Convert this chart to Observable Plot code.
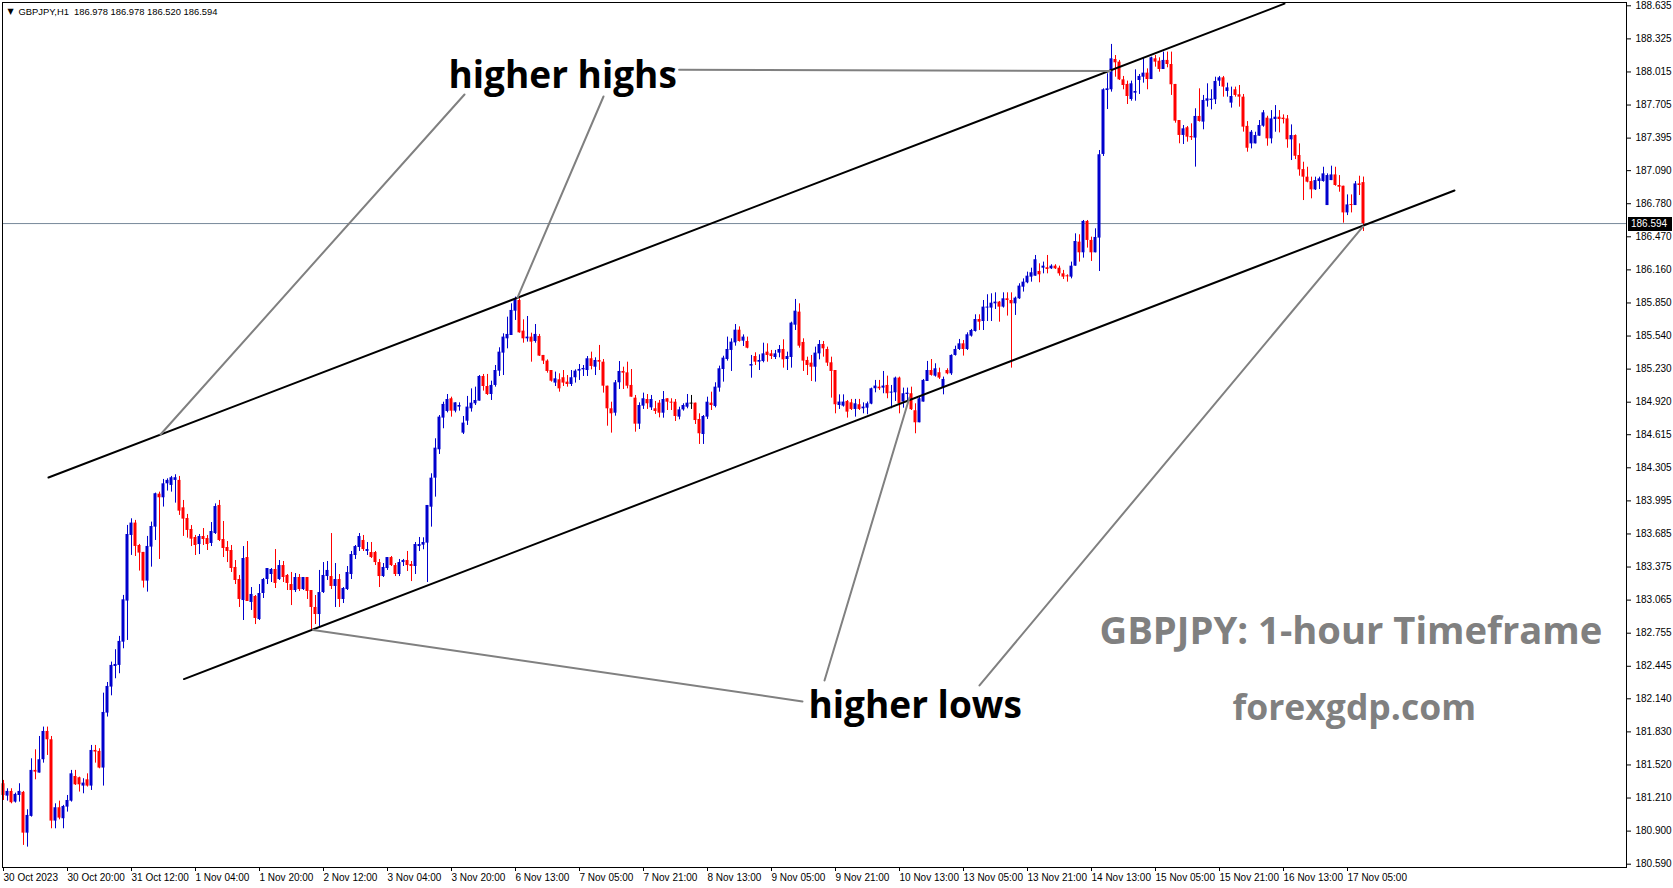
<!DOCTYPE html>
<html>
<head>
<meta charset="utf-8">
<script src="https://cdn.jsdelivr.net/npm/d3@7"></script>
<script src="https://cdn.jsdelivr.net/npm/@observablehq/plot@0.6"></script>
<style>
  html, body { margin: 0; padding: 0; background: #ffffff; overflow: hidden; }
  #chart svg { display: block; }
</style>
</head>
<body>
<div id="chart"></div>
<script>
// ---------- header ----------
const symbolLabel = "GBPJPY,H1";
const lastBarOHLC = ["186.978", "186.978", "186.520", "186.594"];
const currentPrice = 186.594;

// ---------- hourly candles (bar index 0 = 30 Oct 2023 04:00) ----------
const opens = [
181.344,181.228,181.272,181.172,181.234,181.263,180.881,181.038,181.469,181.444,
181.569,181.834,181.756,180.994,181.119,181.016,181.125,181.181,181.412,181.400,
181.322,181.381,181.322,181.656,181.647,181.491,182.006,182.250,182.443,182.453,
182.671,183.056,183.671,183.787,183.577,183.512,183.243,183.562,183.749,184.058,
184.024,184.155,184.140,184.187,184.187,183.930,183.830,183.727,183.652,183.586,
183.661,183.642,183.596,183.689,183.952,183.633,183.558,183.530,183.371,183.258,
183.061,183.464,183.043,183.099,182.883,183.127,183.258,183.305,183.352,183.258,
183.389,183.296,183.211,183.155,183.277,183.164,183.277,183.155,182.996,182.930,
183.136,183.286,183.286,183.193,183.258,183.071,183.164,183.305,183.483,183.558,
183.624,183.521,183.511,183.511,183.417,183.286,183.361,183.464,183.389,183.305,
183.417,183.436,183.399,183.380,183.567,183.580,183.599,183.936,184.208,184.474,
184.771,184.833,184.952,184.836,184.874,184.630,184.742,184.858,184.905,184.930,
185.161,185.067,184.992,185.077,185.211,185.380,185.514,185.545,185.773,185.873,
185.586,185.514,185.530,185.489,185.536,185.358,185.305,185.217,185.099,185.130,
185.149,185.108,185.086,185.149,185.211,185.223,185.217,185.327,185.248,185.311,
185.295,185.070,184.858,184.817,185.102,185.208,185.195,185.077,184.958,184.714,
184.883,184.945,184.867,184.858,184.911,184.817,184.952,184.920,184.920,184.780,
184.848,184.873,184.902,184.911,184.758,184.617,184.780,184.911,184.880,185.052,
185.226,185.320,185.405,185.476,185.595,185.492,185.489,185.258,185.348,185.295,
185.301,185.389,185.373,185.339,185.380,185.414,185.320,185.339,185.642,185.764,
185.480,185.311,185.286,185.248,185.373,185.461,185.414,185.289,185.217,184.889,
184.883,184.927,184.914,184.852,184.896,184.858,184.864,184.902,185.046,185.061,
185.052,185.077,185.005,185.008,185.146,184.921,184.992,184.999,184.840,184.727,
184.921,185.114,185.217,185.164,185.196,185.052,185.217,185.186,185.358,185.414,
185.467,185.414,185.539,185.583,185.695,185.676,185.802,185.802,185.842,185.858,
185.811,185.889,185.873,185.842,185.889,185.998,186.039,186.092,186.101,186.145,
186.176,186.180,186.170,186.195,186.176,186.123,186.101,186.092,186.195,186.420,
186.320,186.614,186.436,186.320,186.458,187.242,187.841,187.848,188.132,188.107,
187.941,187.898,187.757,187.816,187.935,187.966,188.004,187.944,188.138,188.116,
188.038,188.123,188.085,187.898,187.560,187.420,187.492,187.410,187.395,187.598,
187.545,187.741,187.748,187.754,187.929,187.960,187.832,187.723,187.848,187.801,
187.779,187.505,187.341,187.341,187.413,187.507,187.582,187.388,187.569,187.591,
187.582,187.575,187.379,187.419,187.232,187.100,187.029,186.988,186.910,186.988,
186.988,186.763,186.997,187.050,186.951,186.944,186.694,186.769,186.763,186.966,186.978
];
const highs = [
181.375,181.297,181.297,181.256,181.344,181.272,181.100,181.578,181.662,181.787,
181.875,181.875,181.787,181.156,181.181,181.141,181.234,181.469,181.469,181.406,
181.391,181.437,181.703,181.703,181.672,182.193,182.293,182.484,182.600,182.725,
183.109,183.765,183.827,183.812,183.587,183.512,183.662,183.796,184.068,184.077,
184.196,184.202,184.224,184.240,184.224,183.999,183.868,183.764,183.671,183.680,
183.736,183.671,183.792,183.967,183.999,183.802,183.614,183.577,183.436,183.296,
183.567,183.614,183.183,183.108,183.211,183.268,183.361,183.361,183.539,183.436,
183.427,183.305,183.324,183.314,183.305,183.277,183.277,183.155,183.108,183.343,
183.417,183.427,183.689,183.408,183.305,183.183,183.380,183.521,183.577,183.689,
183.671,183.605,183.605,183.521,183.446,183.408,183.464,183.474,183.408,183.446,
183.446,183.521,183.427,183.605,183.652,183.649,183.952,184.249,184.577,184.795,
184.920,184.992,184.967,184.914,184.914,184.786,184.974,185.045,185.061,185.170,
185.180,185.180,185.117,185.264,185.430,185.561,185.717,185.842,185.905,185.889,
185.692,185.723,185.567,185.648,185.555,185.358,185.317,185.217,185.202,185.186,
185.217,185.170,185.217,185.223,185.273,185.264,185.348,185.389,185.336,185.452,
185.320,185.070,184.920,185.123,185.301,185.248,185.295,185.226,184.983,184.914,
185.005,184.992,184.983,184.927,184.936,185.020,184.952,184.952,184.945,184.873,
184.905,184.992,184.983,184.911,184.811,184.795,184.967,185.014,185.102,185.258,
185.351,185.530,185.514,185.648,185.626,185.551,185.530,185.358,185.383,185.364,
185.473,185.467,185.405,185.405,185.451,185.505,185.389,185.670,185.883,185.842,
185.514,185.342,185.358,185.436,185.498,185.489,185.436,185.342,185.217,184.989,
184.989,184.936,184.946,184.946,184.946,184.914,184.921,185.052,185.124,185.124,
185.208,185.164,185.077,185.155,185.155,185.052,185.052,185.061,184.905,184.967,
185.133,185.302,185.320,185.280,185.239,185.155,185.233,185.364,185.445,185.508,
185.498,185.570,185.602,185.739,185.739,185.873,185.927,185.936,185.945,185.864,
185.945,185.945,185.945,185.905,186.030,186.076,186.139,186.176,186.295,186.217,
186.233,186.295,186.208,186.208,186.195,186.155,186.114,186.233,186.498,186.489,
186.623,186.623,186.467,186.545,187.279,187.857,187.998,188.273,188.169,188.123,
187.973,187.929,187.929,188.035,187.991,188.148,188.044,188.154,188.169,188.148,
188.201,188.201,188.201,187.898,187.560,187.513,187.504,187.529,187.670,187.857,
187.795,187.904,187.848,187.966,187.973,187.973,187.910,187.873,187.873,187.888,
187.804,187.550,187.466,187.450,187.560,187.653,187.600,187.653,187.700,187.653,
187.613,187.607,187.519,187.425,187.341,187.169,187.122,187.029,187.029,187.029,
187.122,187.060,187.132,187.122,187.044,186.944,186.863,186.863,186.988,187.038,187.030
];
const lows = [
181.187,181.181,181.156,181.163,181.172,180.766,180.750,181.031,181.381,181.444,
181.537,181.609,180.922,180.922,181.006,180.922,181.078,181.172,181.328,181.266,
181.250,181.313,181.281,181.537,181.484,181.322,181.969,182.168,182.328,182.375,
182.609,182.687,183.484,183.474,183.337,183.178,183.140,183.374,183.624,183.446,
183.937,184.087,184.077,183.974,183.859,183.662,183.646,183.567,183.483,183.492,
183.577,183.530,183.567,183.680,183.614,183.464,183.417,183.324,183.211,182.996,
182.874,183.052,182.968,182.836,182.874,183.080,183.211,183.230,183.174,183.249,
183.230,183.155,183.014,183.136,183.146,183.155,183.071,182.780,182.836,182.818,
183.127,183.249,183.164,182.996,182.996,183.033,183.155,183.258,183.446,183.521,
183.521,183.483,183.455,183.389,183.183,183.277,183.343,183.380,183.286,183.286,
183.380,183.333,183.239,183.305,183.521,183.537,183.230,183.749,184.030,184.430,
184.671,184.820,184.780,184.820,184.836,184.617,184.702,184.827,184.889,184.930,
185.024,184.983,184.936,185.061,185.161,185.170,185.420,185.545,185.686,185.567,
185.473,185.483,185.295,185.473,185.349,185.273,185.192,185.108,185.067,185.014,
185.067,185.061,185.067,185.099,185.124,185.161,185.161,185.223,185.170,185.217,
185.005,184.695,184.630,184.789,185.039,185.039,185.045,184.967,184.639,184.664,
184.852,184.852,184.842,184.805,184.773,184.770,184.842,184.842,184.739,184.755,
184.836,184.858,184.852,184.711,184.524,184.524,184.758,184.842,184.867,185.014,
185.108,185.305,185.208,185.445,185.483,185.442,185.420,185.145,185.264,185.217,
185.289,185.295,185.320,185.320,185.336,185.239,185.217,185.239,185.592,185.426,
185.208,185.170,185.114,185.108,185.317,185.342,185.255,184.958,184.811,184.852,
184.874,184.771,184.842,184.780,184.842,184.811,184.802,184.896,185.008,185.030,
184.999,184.952,184.858,184.927,184.811,184.864,184.896,184.842,184.624,184.727,
184.921,185.114,185.164,185.155,185.133,184.989,185.177,185.171,185.352,185.405,
185.352,185.405,185.530,185.577,185.592,185.592,185.676,185.676,185.789,185.670,
185.802,185.727,185.239,185.733,185.883,185.952,186.030,186.045,186.101,186.039,
186.123,186.123,186.164,186.164,186.101,186.070,186.045,186.076,186.195,186.233,
186.270,186.364,186.239,186.320,186.145,187.223,187.663,187.826,187.966,187.935,
187.848,187.710,187.741,187.741,187.804,187.910,187.848,187.944,188.060,188.013,
188.038,188.054,187.795,187.535,187.342,187.335,187.357,187.373,187.123,187.545,
187.473,187.685,187.660,187.710,187.879,187.779,187.779,187.676,187.779,187.685,
187.451,187.263,187.294,187.341,187.413,187.497,187.319,187.341,187.450,187.444,
187.528,187.300,187.185,187.194,187.038,186.810,186.976,186.826,186.904,186.913,
186.982,186.763,186.997,186.944,186.888,186.598,186.669,186.694,186.763,186.857,186.520
];
const closes = [
181.234,181.272,181.166,181.244,181.272,180.881,181.047,181.469,181.453,181.569,
181.834,181.756,180.994,181.119,181.022,181.131,181.187,181.437,181.334,181.334,
181.350,181.322,181.656,181.641,181.491,182.012,182.256,182.453,182.462,182.678,
183.068,183.680,183.787,183.568,183.506,183.243,183.568,183.755,184.062,184.024,
184.155,184.187,184.212,184.212,183.899,183.824,183.718,183.636,183.577,183.661,
183.633,183.586,183.708,183.942,183.624,183.549,183.521,183.361,183.249,183.071,
183.455,183.052,183.118,182.893,183.127,183.258,183.361,183.352,183.221,183.389,
183.277,183.221,183.155,183.277,183.164,183.277,183.146,182.996,182.930,183.136,
183.296,183.343,183.193,183.258,183.071,183.174,183.324,183.492,183.567,183.661,
183.539,183.539,183.464,183.417,183.286,183.371,183.464,183.389,183.305,183.417,
183.436,183.389,183.380,183.586,183.586,183.605,183.952,184.208,184.489,184.780,
184.899,184.945,184.836,184.914,184.889,184.724,184.874,184.911,184.936,185.161,
185.067,184.992,185.077,185.217,185.389,185.530,185.555,185.780,185.880,185.570,
185.514,185.530,185.483,185.555,185.352,185.305,185.208,185.117,185.139,185.045,
185.099,185.086,185.149,185.211,185.227,185.236,185.327,185.255,185.311,185.295,
185.070,184.858,184.811,185.102,185.208,185.192,185.070,184.967,184.714,184.889,
184.952,184.905,184.945,184.833,184.817,184.945,184.920,184.911,184.786,184.848,
184.889,184.911,184.902,184.748,184.624,184.786,184.920,184.889,185.061,185.233,
185.333,185.414,185.483,185.595,185.489,185.530,185.426,185.273,185.295,185.311,
185.373,185.358,185.348,185.373,185.414,185.317,185.348,185.661,185.773,185.445,
185.305,185.264,185.248,185.380,185.461,185.420,185.286,185.208,184.896,184.921,
184.921,184.827,184.852,184.905,184.852,184.874,184.905,185.046,185.071,185.046,
185.071,184.999,185.014,185.146,184.905,184.999,185.005,184.850,184.727,184.952,
185.124,185.217,185.171,185.233,185.146,185.133,185.186,185.358,185.414,185.467,
185.414,185.552,185.592,185.695,185.670,185.811,185.811,185.848,185.858,185.811,
185.889,185.873,185.842,185.895,186.008,186.045,186.101,186.133,186.255,186.114,
186.195,186.164,186.195,186.170,186.123,186.092,186.095,186.195,186.426,186.320,
186.614,186.436,186.320,186.464,187.239,187.848,187.857,188.138,188.101,187.941,
187.888,187.785,187.904,187.832,187.973,188.004,187.944,188.148,188.107,188.038,
188.123,188.085,187.895,187.554,187.420,187.482,187.404,187.398,187.598,187.551,
187.748,187.763,187.760,187.926,187.960,187.873,187.866,187.785,187.795,187.779,
187.498,187.300,187.450,187.419,187.513,187.632,187.388,187.575,187.591,187.569,
187.569,187.379,187.419,187.225,187.097,187.029,186.982,186.910,186.997,187.013,
187.060,187.044,187.050,186.951,186.935,186.694,186.769,186.763,186.966,186.951,186.594
];

// ---------- axes ----------
const xTickBars = [0,16,32,48,64,80,96,112,128,144,160,176,192,208,224,240,256,272,288,304,320,336];
const xTickLabels = ["30 Oct 2023","30 Oct 20:00","31 Oct 12:00","1 Nov 04:00","1 Nov 20:00","2 Nov 12:00",
  "3 Nov 04:00","3 Nov 20:00","6 Nov 13:00","7 Nov 05:00","7 Nov 21:00","8 Nov 13:00","9 Nov 05:00",
  "9 Nov 21:00","10 Nov 13:00","13 Nov 05:00","13 Nov 21:00","14 Nov 13:00","15 Nov 05:00",
  "15 Nov 21:00","16 Nov 13:00","17 Nov 05:00"];
const yTicks = [188.635,188.325,188.015,187.705,187.395,187.090,186.780,186.470,186.160,185.850,185.540,
  185.230,184.920,184.615,184.305,183.995,183.685,183.375,183.065,182.755,182.445,182.140,181.830,
  181.520,181.210,180.900,180.590];
const priceDomain = [180.559, 188.666];
const barDomain = [-0.25, 405.75];

// ---------- drawn objects: [bar index, price] ----------
const upperChannel = [[11.25, 184.214], [320.25, 188.655]];
const lowerChannel = [[45.125, 182.325], [362.75, 186.904]];
const highsPointerA = [[168.9, 188.036], [276.7, 188.024]];
const highsPointerB = [[115.25, 187.804], [39.25, 184.617]];
const highsPointerC = [[150.0, 187.785], [128.5, 185.901]];
const lowsPointerA = [[77.4, 182.785], [199.75, 182.115]];
const lowsPointerB = [[205.25, 182.312], [226.5, 184.964]];
const lowsPointerC = [[244.0, 182.265], [339.9, 186.567]];

const labelTexts = ["higher highs", "higher lows"];
const labelBars = [111.25, 201.25];
const labelPrices = [187.864, 181.96];
const watermarkTexts = ["GBPJPY: 1-hour Timeframe", "forexgdp.com"];
const watermarkBars = [274, 307.25];
const watermarkPrices = [182.655, 181.945];
const watermarkSizes = [38.2, 35.5];

// ---------- build ----------
const BULL = "#0000cd", BEAR = "#ff0000", DOJI = "#000000";
const n = Math.min(opens.length, highs.length, lows.length, closes.length);
const bars = d3.range(n).map(i => ({i, o: opens[i], h: highs[i], l: lows[i], c: closes[i]}));
const colorOf = d => d.c > d.o ? BULL : d.c < d.o ? BEAR : DOJI;
const pxPrice = (priceDomain[1] - priceDomain[0]) / 865;
const bodies = bars.map(d => {
  const lo = Math.min(d.o, d.c);
  let hi = Math.max(d.o, d.c);
  if (hi - lo < pxPrice) hi = lo + pxPrice;
  return {...d, lo, hi, color: colorOf(d)};
});
bars.forEach(d => d.color = colorOf(d));

const segs = [
  ["upper", upperChannel, "#000000"], ["lower", lowerChannel, "#000000"],
  ["hhA", highsPointerA, "#808080"], ["hhB", highsPointerB, "#808080"], ["hhC", highsPointerC, "#808080"],
  ["hlA", lowsPointerA, "#808080"], ["hlB", lowsPointerB, "#808080"], ["hlC", lowsPointerC, "#808080"]
].flatMap(([id, pts, color]) => pts.map(([b, p]) => ({id, b, p, color})));

const labels = labelTexts.map((t, k) => ({t, b: labelBars[k], p: labelPrices[k]}));
const marks = watermarkTexts.map((t, k) => ({t, b: watermarkBars[k], p: watermarkPrices[k], s: watermarkSizes[k]}));

const plot = Plot.plot({
  width: 1673,
  height: 888,
  marginLeft: 2,
  marginRight: 47,
  marginTop: 2,
  marginBottom: 21,
  x: {type: "linear", domain: barDomain},
  y: {type: "linear", domain: priceDomain},
  color: {type: "identity"},
  style: {fontFamily: "'Liberation Sans', Arial, sans-serif", fontSize: "10px", background: "#ffffff", color: "#000000"},
  marks: [
    Plot.ruleY([currentPrice], {stroke: "#778899", strokeWidth: 1}),
    Plot.ruleX(bars, {x: "i", y1: "l", y2: "h", stroke: "color", strokeWidth: 1}),
    Plot.rect(bodies, {x1: d => d.i - 0.375, x2: d => d.i + 0.375, y1: "lo", y2: "hi", fill: "color"}),
    Plot.line(segs, {x: "b", y: "p", z: "id", stroke: "color", strokeWidth: 2, clip: true}),
    Plot.text(labels, {x: "b", y: "p", text: "t", textAnchor: "start", lineAnchor: "bottom",
      fontFamily: "'Open Sans', sans-serif", fontWeight: 700, fontSize: 37, fill: "#000000"}),
    ...marks.map(m => Plot.text([m], {x: "b", y: "p", text: "t", textAnchor: "start", lineAnchor: "bottom",
      fontFamily: "'Open Sans', sans-serif", fontWeight: 700, fontSize: m.s, fill: "#808080"})),
    Plot.axisY(yTicks, {anchor: "right", tickSize: 4, tickPadding: 5, tickFormat: d => d.toFixed(3)}),
    Plot.axisX(xTickBars, {anchor: "bottom", tickSize: 4, tickPadding: 2, textAnchor: "start", dx: 0,
      tickFormat: d => xTickLabels[xTickBars.indexOf(d)]}),
    Plot.frame({stroke: "#000000"}),
    Plot.text(["\u25BC"], {frameAnchor: "top-left", dx: 5, dy: 9, textAnchor: "start", lineAnchor: "middle",
      fontFamily: "'DejaVu Sans', sans-serif", fontSize: 8}),
    Plot.text([symbolLabel + "\u00a0\u00a0" + lastBarOHLC.join(" ")], {frameAnchor: "top-left", dx: 16, dy: 9,
      textAnchor: "start", lineAnchor: "middle", fontSize: 9.4})
  ]
});

document.getElementById("chart").appendChild(plot);

// current price tag on the right axis
const svg = d3.select(plot);
const yPos = plot.scale("y").apply(currentPrice) + 0.5;
const xRight = 1673 - 47;
const tag = svg.append("g").attr("text-anchor", "start");
tag.append("rect").attr("x", xRight + 2).attr("y", Math.round(yPos) - 7).attr("width", 44).attr("height", 14).attr("fill", "#000000");
tag.append("text").attr("x", xRight + 5).attr("y", yPos).attr("dy", "0.35em").attr("text-anchor", "start")
  .attr("fill", "#ffffff").attr("font-size", 10).attr("font-family", "'Liberation Sans', Arial, sans-serif")
  .text(currentPrice.toFixed(3));
</script>
</body>
</html>
